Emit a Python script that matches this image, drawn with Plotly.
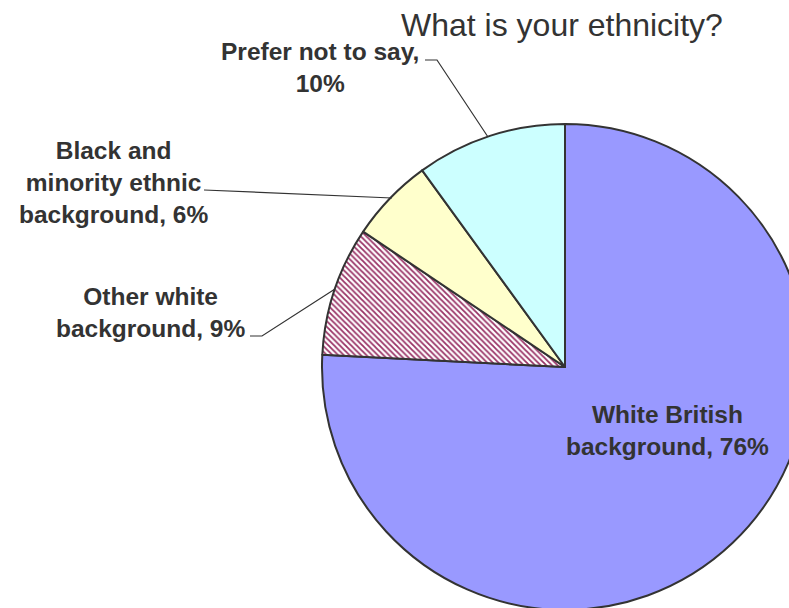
import plotly.graph_objects as go

# ---- data ----
categories = ["White British background", "Other white background",
              "Black and minority ethnic background", "Prefer not to say"]
label_text = ["White British<br>background", "Other white<br>background",
              "Black and<br>minority ethnic<br>background", "Prefer not to say,<br>"]
values = [75.8, 8.6, 5.6, 10.0]
colors = ["#9999FF", "#FFFFFF", "#FFFFCC", "#CCFFFF"]
patterns = ["", "\\", "", ""]
title_text = "What is your ethnicity?"

# ---- canvas (larger than window so pie is cropped like the reference) ----
W, H = 830, 640


def px(x):
    return x / W


def py(y):
    return 1 - y / H


total = sum(values)
pcts = [round(v / total * 100) for v in values]

fig = go.Figure()
fig.add_trace(go.Pie(
    labels=categories,
    values=values,
    sort=False,
    direction="clockwise",
    rotation=0,
    textinfo="none",
    hoverinfo="label+percent",
    marker=dict(
        colors=colors,
        line=dict(color="#333333", width=2),
        pattern=dict(shape=patterns, fgcolor="#993366", size=4, solidity=0.45),
    ),
    domain=dict(x=[px(322), px(808)], y=[py(610), py(124)]),
    showlegend=False,
))

lab_font = dict(family="Liberation Sans", size=24.5, color="#333333", weight="bold")

# label positions (pixel centres)
pos = {
    0: (667, 430),
    1: (150, 312),
    2: (113, 183),
    3: (320, 67),
}
texts = [
    f"{label_text[0]}, {pcts[0]}%",
    f"{label_text[1]}, {pcts[1]}%",
    f"{label_text[2]}, {pcts[2]}%",
    f"{label_text[3]}{pcts[3]}%",
]
for i in range(4):
    x, y = pos[i]
    fig.add_annotation(x=px(x), y=py(y), xref="paper", yref="paper",
                       text=texts[i], showarrow=False, align="center",
                       xanchor="center", yanchor="middle", font=lab_font)

# leader lines
leaders = [
    [(425, 60), (437, 60), (488, 137)],
    [(204, 190), (392, 198)],
    [(250, 336), (262, 336), (335, 289)],
]
for pts in leaders:
    path = "M " + " L ".join(f"{px(a)},{py(b)}" for a, b in pts)
    fig.add_shape(type="path", path=path, xref="paper", yref="paper",
                  line=dict(color="#333333", width=1.2))

fig.add_annotation(x=px(562), y=py(25), xref="paper", yref="paper",
                   text=title_text, showarrow=False, xanchor="center",
                   yanchor="middle",
                   font=dict(family="Liberation Sans", size=32, color="#333333"))

fig.update_layout(
    width=W, height=H,
    margin=dict(l=0, r=0, t=0, b=0),
    paper_bgcolor="white",
    plot_bgcolor="white",
)

fig.write_html("out.html",
               config={"displayModeBar": False},
               post_script="document.body.style.margin='0';document.body.style.overflow='hidden';")
